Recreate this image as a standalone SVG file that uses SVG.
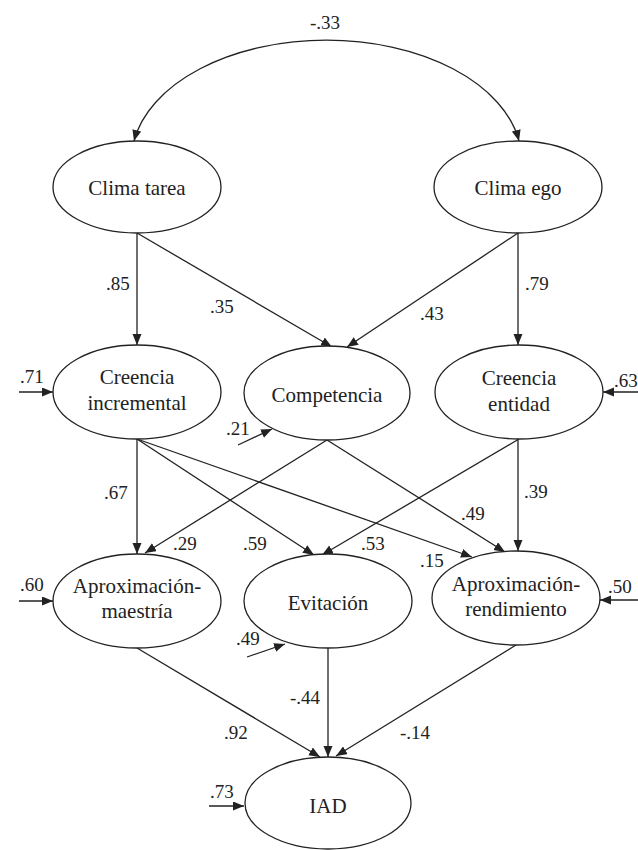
<svg xmlns="http://www.w3.org/2000/svg" width="638" height="850" viewBox="0 0 638 850">
<style>
.n{fill:#fff;stroke:#222;stroke-width:1.3}
.t{font-family:"Liberation Serif","Times New Roman",serif;font-size:21px;fill:#222;text-anchor:middle}
.v{font-family:"Liberation Serif","Times New Roman",serif;font-size:19px;fill:#222}
.c line,.c path{stroke:#222;stroke-width:1.3;fill:none;marker-end:url(#a)}
</style>
<defs>
<marker id="a" markerWidth="12" markerHeight="10" refX="11" refY="4.5" orient="auto-start-reverse" markerUnits="userSpaceOnUse">
<path d="M0,0 L11,4.5 L0,9 Z" fill="#222"/>
</marker>
</defs>
<rect width="638" height="850" fill="#fff"/>
<g class="c" id="connectors">
<path d="M134,141 A195,120 0 0 1 519,141" style="marker-start:url(#a)"/>
<line x1="137" y1="233" x2="137" y2="345"/>
<line x1="137" y1="233" x2="332" y2="347"/>
<line x1="518" y1="233" x2="347" y2="347"/>
<line x1="518" y1="233" x2="518" y2="345"/>
<line x1="19" y1="392" x2="53" y2="392"/>
<line x1="638" y1="392" x2="603" y2="392"/>
<line x1="238" y1="445" x2="272" y2="429"/>
<line x1="137" y1="439" x2="137" y2="554"/>
<line x1="137" y1="439" x2="314" y2="555"/>
<line x1="137" y1="439" x2="472" y2="557"/>
<line x1="327" y1="440" x2="145" y2="553"/>
<line x1="327" y1="440" x2="505" y2="552"/>
<line x1="519" y1="439" x2="322" y2="555"/>
<line x1="518" y1="439" x2="518" y2="551"/>
<line x1="19" y1="601" x2="53" y2="601"/>
<line x1="638" y1="600" x2="600" y2="600"/>
<line x1="247" y1="657" x2="285" y2="644"/>
<line x1="137" y1="648" x2="320" y2="757"/>
<line x1="328" y1="648" x2="328" y2="757"/>
<line x1="516" y1="645" x2="336" y2="756"/>
<line x1="209" y1="806" x2="244" y2="806"/>
</g>
<g id="labels">
<text class="v" x="325" y="29" text-anchor="middle">-.33</text>
<text class="v" x="106" y="290">.85</text>
<text class="v" x="210" y="313">.35</text>
<text class="v" x="420" y="320">.43</text>
<text class="v" x="525" y="290">.79</text>
<text class="v" x="20" y="383">.71</text>
<text class="v" x="614" y="387">.63</text>
<text class="v" x="226" y="435">.21</text>
<text class="v" x="104" y="499">.67</text>
<text class="v" x="524" y="498">.39</text>
<text class="v" x="461" y="520">.49</text>
<text class="v" x="173" y="550">.29</text>
<text class="v" x="243" y="550">.59</text>
<text class="v" x="361" y="550">.53</text>
<text class="v" x="420" y="567">.15</text>
<text class="v" x="20" y="591">.60</text>
<text class="v" x="608" y="593">.50</text>
<text class="v" x="236" y="645">.49</text>
<text class="v" x="290" y="704">-.44</text>
<text class="v" x="224" y="739">.92</text>
<text class="v" x="400" y="739">-.14</text>
<text class="v" x="210" y="798">.73</text>
</g>
<g id="clima-tarea"><ellipse class="n" cx="137" cy="187" rx="84" ry="46"/><text class="t" x="137" y="195">Clima tarea</text></g>
<g id="clima-ego"><ellipse class="n" cx="518" cy="187" rx="84" ry="46"/><text class="t" x="518" y="195">Clima ego</text></g>
<g id="creencia-incremental"><ellipse class="n" cx="137" cy="392" rx="84" ry="47"/><text class="t" x="137" y="384">Creencia</text><text class="t" x="137" y="410">incremental</text></g>
<g id="competencia"><ellipse class="n" cx="327" cy="393" rx="83" ry="47"/><text class="t" x="327" y="402">Competencia</text></g>
<g id="creencia-entidad"><ellipse class="n" cx="519" cy="392" rx="84" ry="47"/><text class="t" x="519" y="385">Creencia</text><text class="t" x="519" y="411">entidad</text></g>
<g id="aprox-maestria"><ellipse class="n" cx="137" cy="601" rx="84" ry="47"/><text class="t" x="137" y="593">Aproximación-</text><text class="t" x="137" y="618">maestría</text></g>
<g id="evitacion"><ellipse class="n" cx="328" cy="601" rx="84" ry="47"/><text class="t" x="328" y="610">Evitación</text></g>
<g id="aprox-rendimiento"><ellipse class="n" cx="516" cy="598" rx="84" ry="47"/><text class="t" x="516" y="591">Aproximación-</text><text class="t" x="516" y="616">rendimiento</text></g>
<g id="iad"><ellipse class="n" cx="328" cy="803" rx="83" ry="46"/><text class="t" x="328" y="813">IAD</text></g>
</svg>
